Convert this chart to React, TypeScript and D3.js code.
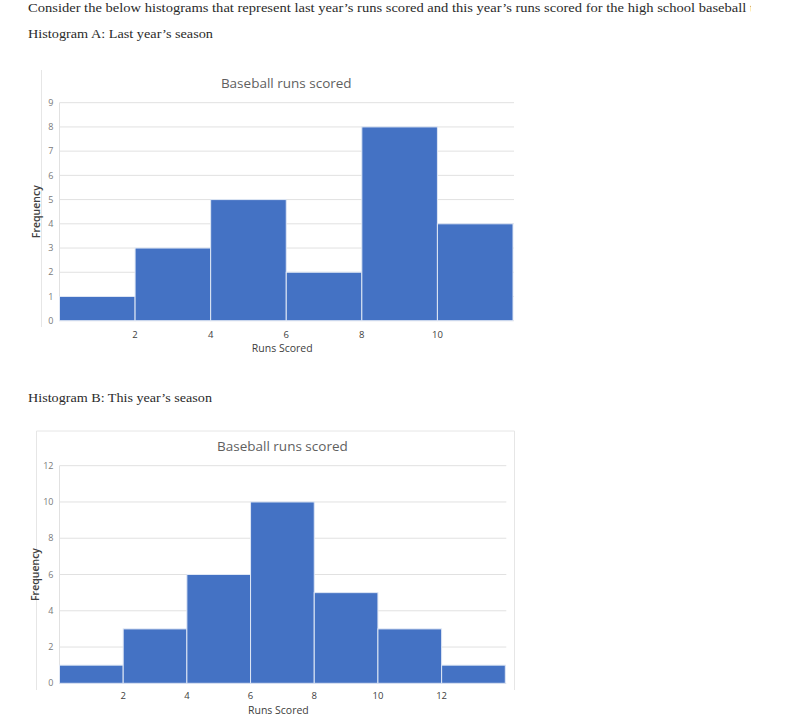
import React from 'react';
import * as d3 from 'd3';

// Histogram A: last year's season (bins of 2 runs, 0..12)
const binsA = [0, 2, 4, 6, 8, 10, 12];
const freqA = [1, 3, 5, 2, 8, 4];
const yTicksA = [0, 1, 2, 3, 4, 5, 6, 7, 8, 9];
const xTicksA = [2, 4, 6, 8, 10];

// Histogram B: this year's season (bins of 2 runs, 0..14)
const binsB = [0, 2, 4, 6, 8, 10, 12, 14];
const freqB = [1, 3, 6, 10, 5, 3, 1];
const yTicksB = [0, 2, 4, 6, 8, 10, 12];
const xTicksB = [2, 4, 6, 8, 10, 12];

const introText =
  "Consider the below histograms that represent last year\u2019s runs scored and this year\u2019s runs scored for the high school baseball t";

const serif = "'Liberation Serif', 'DejaVu Serif', serif";
const sans = "'Open Sans', 'Noto Sans', sans-serif";
const blue = '#4472c4';

type HistProps = {
  bins: number[];
  freq: number[];
  yTicks: number[];
  xTicks: number[];
  left: number;
  right: number;
  top: number;
  bottom: number;
  titleY: number;
  xTickY: number;
  xTitleY: number;
  yTitleX: number;
};

const Histogram = (p: HistProps) => {
  const x = d3.scaleLinear().domain([p.bins[0], p.bins[p.bins.length - 1]]).range([p.left, p.right]);
  const y = d3.scaleLinear().domain([0, d3.max(p.yTicks) as number]).range([p.bottom, p.top]);
  const rows = p.freq.map((f, i) => ({ x0: p.bins[i], x1: p.bins[i + 1], f }));
  const cx = (p.left + p.right) / 2;

  return (
    <g>
      {/* gridlines */}
      {p.yTicks.map((t) => (
        <line key={'g' + t} x1={p.left} x2={p.right + 1} y1={y(t)} y2={y(t)} stroke="#e1e1e1" strokeWidth={1} />
      ))}
      <line x1={p.left} x2={p.left} y1={p.top} y2={p.bottom} stroke="#e1e1e1" />

      {/* bars */}
      {rows.map((r, i) => (
        <rect
          key={'b' + i}
          x={x(r.x0)}
          y={y(r.f)}
          width={x(r.x1) - x(r.x0)}
          height={y(0) - y(r.f)}
          fill={blue}
          stroke="#dfe7f5"
          strokeWidth={1}
        />
      ))}

      {/* y tick labels */}
      {p.yTicks.map((t) => (
        <text key={'y' + t} x={p.left - 6} y={y(t)} dy="0.35em" textAnchor="end" fontSize={9} fill="#7a7a7a" fontFamily={sans}>
          {t}
        </text>
      ))}

      {/* x tick labels */}
      {p.xTicks.map((t) => (
        <text key={'x' + t} x={x(t)} y={p.xTickY} dy="0.35em" textAnchor="middle" fontSize={9.5} fill="#404040" fontFamily={sans}>
          {t}
        </text>
      ))}

      <text x={cx} y={p.titleY} dy="0.35em" textAnchor="middle" fontSize={13.5} fill="#5f5f5f" fontFamily={sans}>
        Baseball runs scored
      </text>
      <text x={cx - 4} y={p.xTitleY} dy="0.35em" textAnchor="middle" fontSize={10.5} fill="#404040" fontFamily={sans}>
        Runs Scored
      </text>
      <text
        transform={`translate(${p.yTitleX},${(p.top + p.bottom) / 2}) rotate(-90)`}
        dy="0.35em"
        textAnchor="middle"
        fontSize={10.5}
        fontWeight={600}
        fill="#404040"
        fontFamily={sans}
      >
        Frequency
      </text>
    </g>
  );
};

export default function App() {
  return (
    <svg width={800} height={716} style={{ position: 'absolute', left: 0, top: 0, background: '#fff' }}>
      <defs>
        <clipPath id="introClip">
          <rect x={0} y={0} width={751} height={20} />
        </clipPath>
      </defs>

      <text x={28} y={12} fontSize={13} fill="#2a2a2a" fontFamily={serif} clipPath="url(#introClip)" textLength={726} lengthAdjust="spacingAndGlyphs">
        {introText}
      </text>
      <text x={28} y={38} fontSize={13} fill="#2a2a2a" fontFamily={serif} textLength={185} lengthAdjust="spacingAndGlyphs">
        Histogram A: Last year’s season
      </text>
      <text x={28} y={402} fontSize={13} fill="#2a2a2a" fontFamily={serif} textLength={184} lengthAdjust="spacingAndGlyphs">
        Histogram B: This year’s season
      </text>

      {/* chart A frame (left edge only visible) */}
      <line x1={41.5} x2={41.5} y1={70} y2={327} stroke="#e6e6e6" />
      <Histogram
        bins={binsA}
        freq={freqA}
        yTicks={yTicksA}
        xTicks={xTicksA}
        left={59.5}
        right={513}
        top={102.7}
        bottom={320.7}
        titleY={83}
        xTickY={334.5}
        xTitleY={348.5}
        yTitleX={36}
      />

      {/* chart B frame */}
      <path d="M36.5,690 V431 H514.5 V690" fill="none" stroke="#e6e6e6" />
      <Histogram
        bins={binsB}
        freq={freqB}
        yTicks={yTicksB}
        xTicks={xTicksB}
        left={59.5}
        right={505.3}
        top={465.7}
        bottom={683.3}
        titleY={446}
        xTickY={695.5}
        xTitleY={710}
        yTitleX={35}
      />
    </svg>
  );
}
